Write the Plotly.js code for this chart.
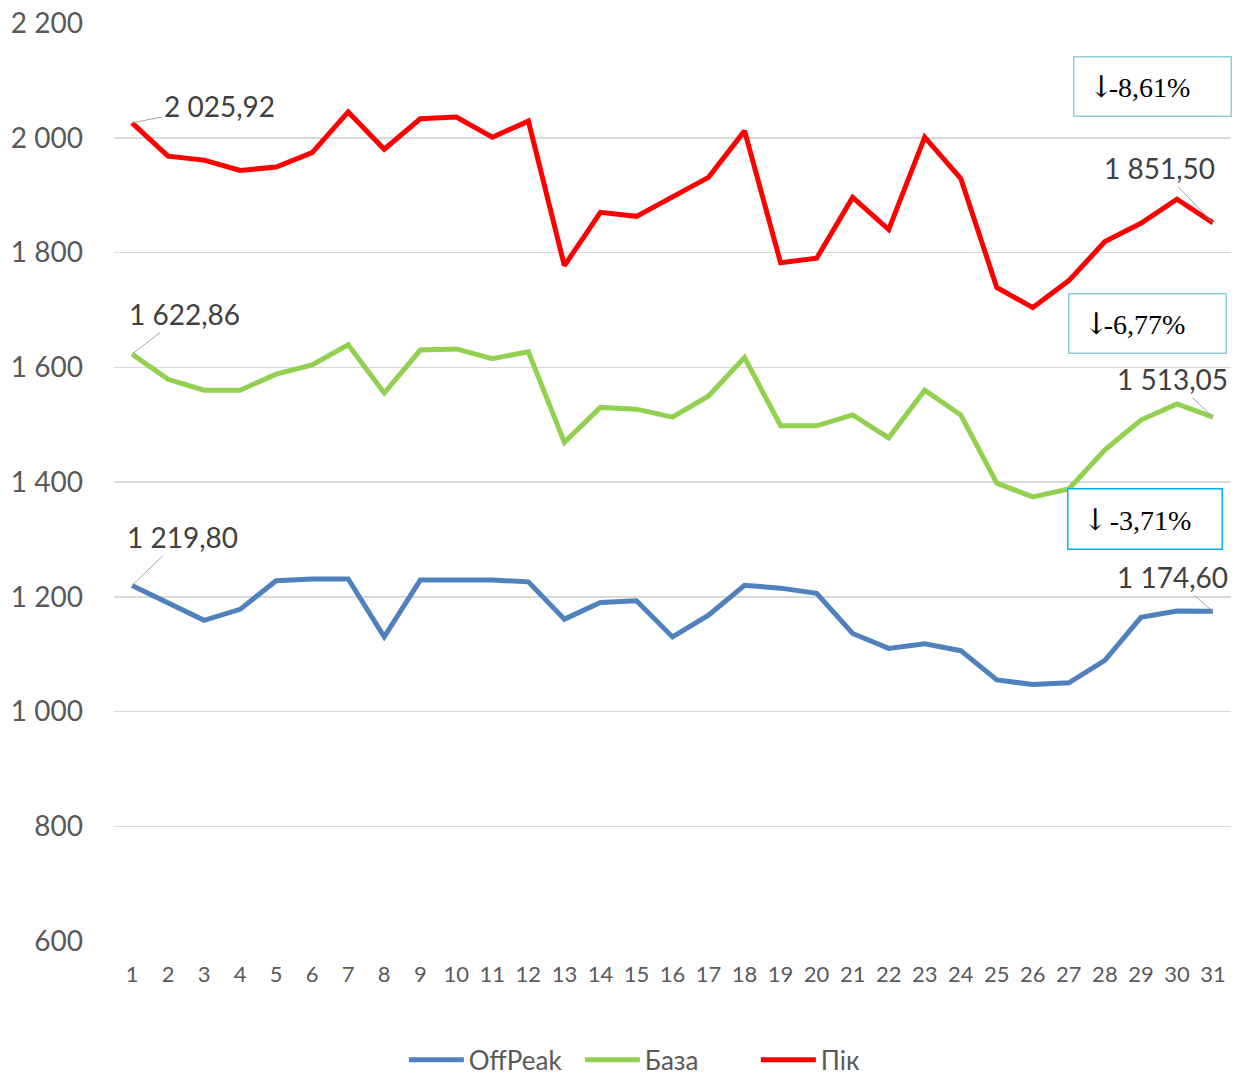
<!DOCTYPE html>
<html>
<head>
<meta charset="utf-8">
<script src="https://cdn.plot.ly/plotly-3.0.1.min.js"></script>
<style>
  html, body { margin: 0; padding: 0; background: #ffffff; }
  #chart { width: 1236px; height: 1077px; }
</style>
</head>
<body>
<div id="chart"></div>
<script>
// ---- Data ----
const days = [1,2,3,4,5,6,7,8,9,10,11,12,13,14,15,16,17,18,19,20,21,22,23,24,25,26,27,28,29,30,31];
const offPeak = [1219.80,1189,1159,1178,1228,1231,1231,1130,1229,1229,1229,1226,1161,1190,1193,1130,1168,1220,1215,1206,1136,1110,1118,1106,1055,1047,1050,1089,1164,1175,1174.60];
const baza = [1622.86,1579,1560,1560,1588,1604,1639,1555,1630,1632,1615,1627,1469,1530,1527,1513,1550,1617,1498,1498,1517,1477,1560,1517,1398,1374,1388,1456,1508,1536,1513.05];
const pik = [2025.92,1968,1961,1943,1949,1974,2045,1980,2033,2036,2001,2029,1777,1870,1863,1897,1931,2012,1782,1790,1896,1840,2001,1929,1739,1704,1751,1819,1851,1893,1851.50];
const seriesNames = ['OffPeak', 'База', 'Пік'];
const yTicks = [600, 800, 1000, 1200, 1400, 1600, 1800, 2000, 2200];

// ---- Helpers ----
function fmt(v) {
  const parts = v.toFixed(2).split('.');
  const intPart = parts[0].replace(/\B(?=(\d{3})+(?!\d))/g, ' ');
  return intPart + ',' + parts[1];
}
function pct(a, b) {
  return ((b - a) / a * 100).toFixed(2).replace('.', ',') + '%';
}

const colors = ['#4f81bd', '#92d050', '#ff0000'];
const series = [offPeak, baza, pik];

const traces = series.map((s, i) => ({
  x: days, y: s, type: 'scatter', mode: 'lines', name: seriesNames[i],
  line: { color: colors[i], width: 5 }
}));

const last = days.length - 1;
const labelFont = { family: 'Lato, Carlito, sans-serif', size: 28, color: '#404040' };
const leader = { showarrow: true, arrowhead: 0, arrowwidth: 1, arrowcolor: '#a6a6a6', font: labelFont };
const arrowSpan = '<span style="font-family:DejaVu Serif;font-size:30px;letter-spacing:-5px">↓</span>';
const boxFont = { family: 'Liberation Serif, Times New Roman, serif', size: 28, color: '#000000' };

const annotations = [
  Object.assign({ x: days[0], y: pik[0], text: fmt(pik[0]), ax: 87, ay: -17 }, leader),
  Object.assign({ x: days[0], y: baza[0], text: fmt(baza[0]), ax: 52, ay: -40 }, leader),
  Object.assign({ x: days[0], y: offPeak[0], text: fmt(offPeak[0]), ax: 50, ay: -48 }, leader),
  Object.assign({ x: days[last], y: pik[last], text: fmt(pik[last]), ax: -53, ay: -55 }, leader),
  Object.assign({ x: days[last], y: baza[last], text: fmt(baza[last]), ax: -40, ay: -38 }, leader),
  Object.assign({ x: days[last], y: offPeak[last], text: fmt(offPeak[last]), ax: -40, ay: -34 }, leader),
  {
    xref: 'paper', yref: 'paper', x: 0.930, y: 0.931, xanchor: 'center', yanchor: 'middle',
    text: arrowSpan + pct(pik[0], pik[last]), showarrow: false, align: 'left',
    width: 128, height: 30, borderpad: 14, bordercolor: '#92cddc', borderwidth: 1.5, bgcolor: '#ffffff',
    font: boxFont
  },
  {
    xref: 'paper', yref: 'paper', x: 0.925, y: 0.673, xanchor: 'center', yanchor: 'middle',
    text: arrowSpan + pct(baza[0], baza[last]), showarrow: false, align: 'left',
    width: 128, height: 30, borderpad: 14, bordercolor: '#92cddc', borderwidth: 1.5, bgcolor: '#ffffff',
    font: boxFont
  },
  {
    xref: 'paper', yref: 'paper', x: 0.9226, y: 0.4597, xanchor: 'center', yanchor: 'middle',
    text: '<span style="font-family:DejaVu Serif;font-size:30px;letter-spacing:-5px">↓</span> ' + pct(offPeak[0], offPeak[last]),
    showarrow: false, align: 'left',
    width: 125, height: 31, borderpad: 14, bordercolor: '#00b0f0', borderwidth: 1.5, bgcolor: '#ffffff',
    font: boxFont
  }
];

const layout = {
  width: 1236, height: 1077,
  margin: { l: 114, r: 5, t: 23, b: 136, autoexpand: false },
  paper_bgcolor: '#ffffff', plot_bgcolor: '#ffffff',
  separators: ', ',
  showlegend: true,
  legend: {
    orientation: 'h', x: 0.2595, xanchor: 'left',
    yref: 'container', y: 0.016, yanchor: 'middle',
    font: { family: 'Lato, Carlito, sans-serif', size: 26, color: '#595959' },
    itemwidth: 55, entrywidth: 106, entrywidthmode: 'pixels'
  },
  xaxis: {
    range: [0.5, 31.5], tickmode: 'array', tickvals: days, ticktext: days.map(String),
    showgrid: false, zeroline: false, showline: false, ticks: '',
    tickfont: { family: 'Lato, Carlito, sans-serif', size: 22, color: '#595959' },
    ticklabelstandoff: 18, fixedrange: true
  },
  yaxis: {
    range: [600, 2200], tickmode: 'array', tickvals: yTicks,
    separatethousands: true, tickformat: ',d',
    showgrid: true, gridcolor: '#d9d9d9', gridwidth: 1.5, zeroline: false, showline: false, ticks: '',
    tickfont: { family: 'Lato, Carlito, sans-serif', size: 28, color: '#595959' },
    ticklabelstandoff: 30, fixedrange: true
  },
  annotations: annotations
};

Plotly.newPlot('chart', traces, layout, { displayModeBar: false, staticPlot: true });
</script>
</body>
</html>
